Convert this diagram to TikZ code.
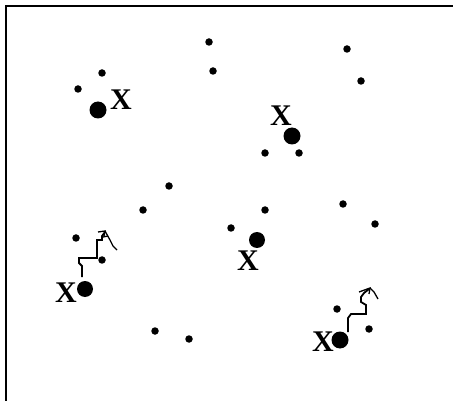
\documentclass[tikz,border=0pt]{standalone}
\usepackage{fontspec}
\setmainfont{Liberation Serif}
\begin{document}
\begin{tikzpicture}[x=1pt,y=-1pt,
  dot/.style={circle,fill=black,inner sep=0pt,minimum size=7.5pt},
  bigdot/.style={circle,fill=black,inner sep=0pt,minimum size=17pt},
  xlab/.style={inner sep=0pt,font=\bfseries\fontsize{30}{30}\selectfont},
  walk/.style={line width=1.8pt,line join=miter},
  tip/.style={line width=1.3pt}]
\useasboundingbox (0,0) rectangle (453,401);
\draw[line width=2.5pt] (6,401) -- (6,6) -- (453,6);
% small dots
\foreach \n/\x/\y in {a/209/42, b/213/71, c/347/49, d/361/81, e/102/73, f/78/89,
  g/265/153, h/299/153, i/169/186, j/143/210, k/265/210, l/343/204, m/375/224,
  n/231/228, o/76/238, p/102/260, q/155/331, r/189/339, s/337/309, t/369/329}
  \node[dot] (s\n) at (\x,\y) {};
% big dots
\node[bigdot] (B1) at (98,110) {};
\node[bigdot] (B2) at (292,136) {};
\node[bigdot,minimum size=16pt] (B3) at (257,240) {};
\node[bigdot,minimum size=16pt] (B4) at (85,289) {};
\node[bigdot] (B5) at (340,340) {};
% labels
\node[xlab] (X1) at (121,100) {X};
\node[xlab] (X2) at (281,116) {X};
\node[xlab] (X3) at (248,261) {X};
\node[xlab] (X4) at (66,293) {X};
\node[xlab] (X5) at (323,342) {X};
% random walk 1
\coordinate (w1) at (82,277);
\draw[walk] (w1) -- (82,266) -- (79,263) -- (79,258) -- (97,258) -- (97,240)
  -- (102,240) -- (102,236) -- (105,232);
\draw[tip] (98,232) -- (105,231) -- (104,236);
\draw[tip] (105,231) -- (110,240) -- (113,246) -- (117,250);
\draw[tip] (103,237) -- (108,236);
% random walk 2
\coordinate (w2) at (348,332);
\draw[walk] (w2) -- (348,318) -- (351,314) -- (366,314) -- (366,305)
  -- (361,302) -- (361,297) -- (364,293) -- (369,289);
\draw[tip] (359,292) -- (370,288) -- (369,294);
\draw[tip] (370,288) -- (374,292) -- (378,299);
\end{tikzpicture}
\end{document}
